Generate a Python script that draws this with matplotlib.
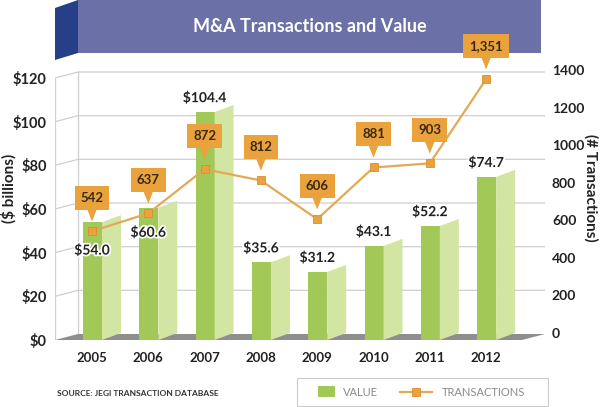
import matplotlib
matplotlib.use("Agg")
import matplotlib.pyplot as plt
from matplotlib.patches import Polygon, Rectangle
from matplotlib.lines import Line2D
import matplotlib.patheffects as pe

# ---------------- data ----------------
years = ["2005", "2006", "2007", "2008", "2009", "2010", "2011", "2012"]
values = [54.0, 60.6, 104.4, 35.6, 31.2, 43.1, 52.2, 74.7]          # $ billions
transactions = [542, 637, 872, 812, 606, 881, 903, 1351]           # count
left_ticks = [0, 20, 40, 60, 80, 100, 120]
right_ticks = [0, 200, 400, 600, 800, 1000, 1200, 1400]

# ---------------- style ----------------
plt.rcParams["font.family"] = ["Lato", "DejaVu Sans"]
plt.rcParams["font.weight"] = "bold"

W, H = 600, 407
GREEN_FRONT = "#a2c858"
GREEN_SIDE = "#d3e5a2"
ORANGE = "#e9a23c"
LINE_ORANGE = "#e3aa55"
DARK = "#222222"
GRID = "#cfcfcf"
FLOOR = "#8e8e8e"

fig = plt.figure(figsize=(W / 100, H / 100), dpi=100)
fig.patch.set_facecolor("white")


def frac(x0, y0, x1, y1):
    return [x0 / W, 1 - y1 / H, (x1 - x0) / W, (y1 - y0) / H]


# axes frame in pixels
AX_L, AX_T, AX_R, AX_B = 55, 68, 545, 340
ax1 = fig.add_axes(frac(AX_L, AX_T, AX_R, AX_B))
ax2 = ax1.twinx()

# left scale: $0 at y=340 px, $120 at y=78 px
ppu1 = (340 - 78) / 120.0
ax1.set_ylim((340 - AX_B) / ppu1, (340 - AX_T) / ppu1)
# right scale: 0 at y=333 px, 1400 at y=70 px
ppu2 = (333 - 70) / 1400.0
ax2.set_ylim((333 - AX_B) / ppu2, (333 - AX_T) / ppu2)
# categories: first at x=92 px, spacing 56.3 px
X0, DXC = 92, 56.3
xl, xr = (AX_L - X0) / DXC, (AX_R - X0) / DXC
ax1.set_xlim(xl, xr)

for ax in (ax1, ax2):
    for s in ax.spines.values():
        s.set_visible(False)
    ax.tick_params(length=0)

# depth of the pseudo-3D box
DX = 23 / DXC
DY = 6 / ppu1

# back wall gridlines + left wall
for v in left_ticks[1:]:
    ax1.plot([xl, xl + DX, xr], [v, v + DY, v + DY], color=GRID, lw=0.9, zorder=1,
             solid_capstyle="butt")
ax1.plot([xl, xl], [0, left_ticks[-1]], color=GRID, lw=0.9, zorder=1)
ax1.plot([xl + DX, xl + DX], [DY, left_ticks[-1] + DY], color=GRID, lw=0.9, zorder=1)

# floor
ax1.add_patch(Polygon([(xl, 0), (xl + DX, DY), (xr, DY), (xr - DX, 0)],
                      closed=True, fc=FLOOR, ec="none", zorder=2))

# bars (front + side face)
xs = list(range(len(years)))
FW = 19 / DXC
SW = 19 / DXC
SL = 7 / ppu1
front_left = [x - 9 / DXC for x in xs]
ax1.bar(front_left, values, width=FW, align="edge", color=GREEN_FRONT,
        edgecolor="none", zorder=3)
for fl, v in zip(front_left, values):
    r = fl + FW
    ax1.add_patch(Polygon([(r, 0), (r + SW, SL), (r + SW, v + SL), (r, v)],
                          closed=True, fc=GREEN_SIDE, ec="none", zorder=3))

# transactions line
ax2.plot(xs, transactions, color=LINE_ORANGE, lw=1.6, zorder=5,
         marker="s", markersize=5.5, markerfacecolor=ORANGE,
         markeredgecolor="#d98f2a", markeredgewidth=0.6)

# callouts
for x, t in zip(xs, transactions):
    ax2.annotate(f"{t:,}", xy=(x, t), xytext=(0, 24), textcoords="offset points",
                 ha="center", va="center", fontsize=9.5, color="#3a2810",
                 fontweight="bold", zorder=7, annotation_clip=False,
                 bbox=dict(boxstyle="square,pad=0.45", fc=ORANGE, ec="none"),
                 arrowprops=dict(arrowstyle="wedge,tail_width=0.7,shrink_factor=0.5",
                                 fc=ORANGE, ec="none", shrinkA=0, shrinkB=7))

# value labels
fig.canvas.draw()
for x, v, t in zip(xs, values, transactions):
    top_px = ax1.transData.transform((x, v))[1]
    mk_px = ax2.transData.transform((x, t))[1]
    if abs(top_px - mk_px) < 20:
        ax2.annotate(f"${v:.1f}", xy=(x, t), xytext=(0, -14), textcoords="offset points",
                     ha="center", va="center", fontsize=10, color=DARK, zorder=8,
                     path_effects=[pe.withStroke(linewidth=2.5, foreground="white")])
    else:
        ax1.annotate(f"${v:.1f}", xy=(x, v), xytext=(0, 10), textcoords="offset points",
                     ha="center", va="center", fontsize=10, color=DARK, zorder=8,
                     path_effects=[pe.withStroke(linewidth=2.5, foreground="white")])

# ticks
ax1.set_xticks(xs)
ax1.set_xticklabels(years, fontsize=9.5, color=DARK)
ax1.tick_params(axis="x", pad=9)
ax1.set_yticks(left_ticks)
ax1.set_yticklabels([f"${v}" for v in left_ticks], fontsize=10.5, color=DARK)
ax1.tick_params(axis="y", pad=6)
ax2.set_yticks(right_ticks)
ax2.set_yticklabels([str(v) for v in right_ticks], fontsize=10, color=DARK)
ax2.tick_params(axis="y", pad=5)

fig.text(9 / W, 1 - 188 / H, "($ billions)", rotation=90, ha="center", va="center",
         fontsize=11, color=DARK)
fig.text(591 / W, 1 - 188 / H, "(# Transactions)", rotation=270, ha="center", va="center",
         fontsize=11, color=DARK)

# title banner (behind the axes so the top callout stays visible)
fig.patches.append(Rectangle((78 / W, 1 - 53 / H), (541 - 78) / W, 53 / H,
                             transform=fig.transFigure, fc="#6b70a6", ec="none", zorder=-2))
fig.patches.append(Polygon([(55 / W, 1 - 8 / H), (78 / W, 1), (78 / W, 1 - 53 / H), (55 / W, 1 - 60 / H)],
                           closed=True, transform=fig.transFigure, fc="#263f86", ec="none", zorder=-2))
fig.text(310 / W, 1 - 27 / H, "M&A Transactions and Value", ha="center", va="center",
         fontsize=13, color="white", fontweight="bold", zorder=-1)

# source
fig.text(57 / W, 1 - 394 / H, "SOURCE: JEGI TRANSACTION DATABASE", ha="left", va="center",
         fontsize=6, color="#333333", fontweight="bold")

# legend box
fig.patches.append(Rectangle((297 / W, 1 - 406 / H), (548 - 297) / W, (406 - 378) / H,
                             transform=fig.transFigure, fc="white", ec="#cccccc", lw=0.8))
fig.patches.append(Rectangle((318 / W, 1 - 397 / H), 17 / W, 11 / H,
                             transform=fig.transFigure, fc=GREEN_FRONT, ec="none"))
fig.text(343 / W, 1 - 392 / H, "VALUE", ha="left", va="center", fontsize=8,
         color="#8a8a8a", fontweight="normal")
fig.lines.append(Line2D([400 / W, 432 / W], [1 - 392 / H, 1 - 392 / H], transform=fig.transFigure,
                        color=LINE_ORANGE, lw=1.6))
fig.lines.append(Line2D([416 / W], [1 - 392 / H], transform=fig.transFigure, marker="s",
                        markersize=5.5, markerfacecolor=ORANGE, markeredgecolor="#d98f2a",
                        markeredgewidth=0.6, lw=0))
fig.text(442 / W, 1 - 392 / H, "TRANSACTIONS", ha="left", va="center", fontsize=8,
         color="#8a8a8a", fontweight="normal")

fig.savefig("out.png", dpi=100)
